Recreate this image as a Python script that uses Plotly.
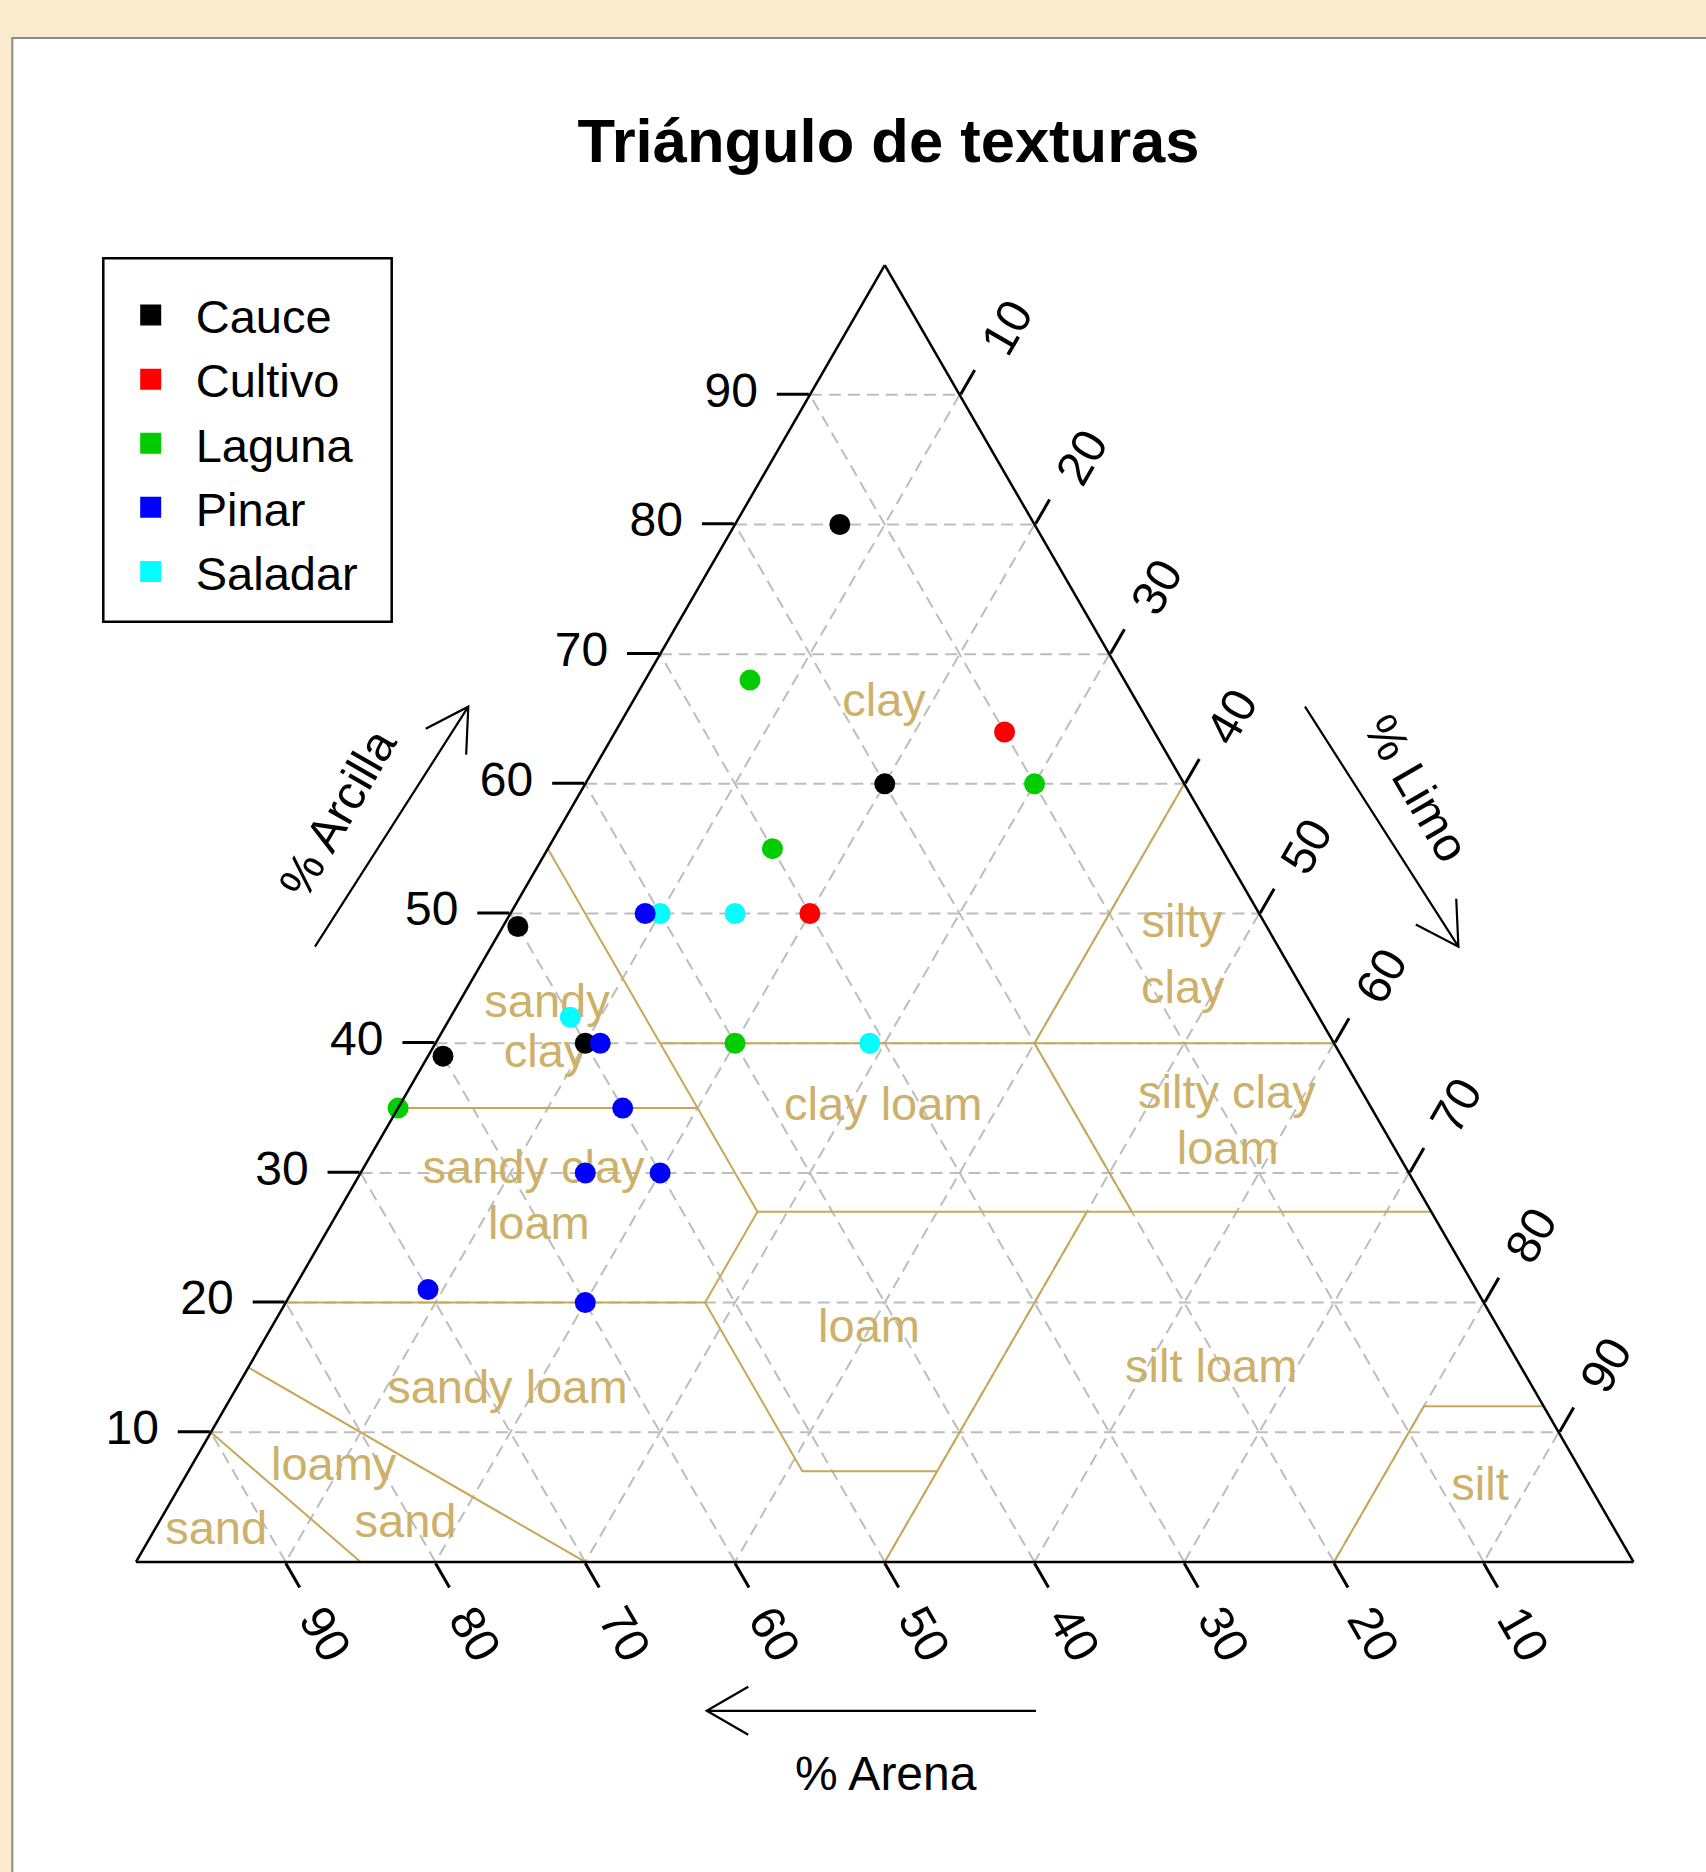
import math
import plotly.graph_objects as go

W, H = 1706, 1872

# ---------------- data ----------------
title_text = "Triángulo de texturas"

series_names = ["Cauce", "Cultivo", "Laguna", "Pinar", "Saladar"]
series_colors = ["#000000", "#FF0000", "#00CD00", "#0000FF", "#00FFFF"]

cauce_clay = [80, 60, 49, 39, 40]
cauce_silt = [7, 20, 1, 1, 10]
cauce_sand = [13, 20, 50, 60, 50]

cultivo_clay = [64, 50]
cultivo_silt = [26, 20]
cultivo_sand = [10, 30]

laguna_clay = [68, 60, 55, 40, 35]
laguna_silt = [7, 30, 15, 20, 0]
laguna_sand = [25, 10, 30, 40, 65]

pinar_clay = [50, 40, 35, 30, 30, 21, 20]
pinar_silt = [9, 11, 15, 15, 20, 9, 20]
pinar_sand = [41, 49, 50, 55, 50, 70, 60]

saladar_clay = [50, 50, 42, 40]
saladar_silt = [10, 15, 8, 29]
saladar_sand = [40, 35, 50, 31]

tick_values = [10, 20, 30, 40, 50, 60, 70, 80, 90]
tick_labels = ["10", "20", "30", "40", "50", "60", "70", "80", "90"]

# USDA texture class boundaries (None separates segments)
boundary_clay = [10, 0, None, 15, 0, None, 20, 20, None, 20, 7, 7, 0, None,
                 7, 27, None, 27, 27, None, 20, 27, None, 27, 55, None,
                 35, 35, None, 40, 40, None, 40, 60, None, 40, 27, None, 0, 12, 12]
boundary_silt = [0, 15, None, 0, 30, None, 0, 28, None, 28, 41, 50, 50, None,
                 50, 50, None, 28, 73, None, 28, 28, None, 28, 0, None,
                 0, 20, None, 15, 60, None, 40, 40, None, 40, 53, None, 80, 80, 88]
boundary_sand = [90, 85, None, 85, 70, None, 80, 52, None, 52, 52, 43, 50, None,
                 43, 23, None, 45, 0, None, 52, 45, None, 45, 45, None,
                 65, 45, None, 45, 0, None, 20, 0, None, 20, 20, None, 20, 8, 0]

class_labels = ["clay", "silty", "clay", "sandy", "clay", "clay loam", "silty clay", "loam",
                "sandy clay", "loam", "loam", "silt loam", "sandy loam", "loamy", "sand",
                "sand", "silt"]
class_clay = [66.1, 49.1, 44.0, 42.9, 39.1, 35.0, 35.9, 31.6, 30.1, 25.8, 17.9, 14.8, 13.2, 7.2, 2.8, 2.3, 5.7]
class_silt = [16.9, 45.3, 47.9, 6.0, 7.8, 32.4, 54.9, 57.1, 11.5, 14.0, 40.0, 64.4, 18.2, 9.6, 16.6, 4.2, 86.9]
class_sand = [17.0, 5.6, 8.1, 51.1, 53.1, 32.6, 9.2, 11.3, 58.4, 60.2, 42.1, 20.8, 68.6, 83.2, 80.6, 93.5, 7.4]

# ---------------- styling helpers ----------------
FONT = "Liberation Sans"
TAN_LINE = "#C8A858"
TAN_TEXT = "#CDB06A"
NBSP = "\u00a0"


def px(x):
    return x / W


def py(y):
    return 1 - y / H


def arrow_path(x0, y0, x1, y1, hl=48, ang=30):
    dx, dy = x1 - x0, y1 - y0
    L = math.hypot(dx, dy)
    bx, by = -dx / L, -dy / L
    pts = []
    for s in (1, -1):
        a = math.radians(ang * s)
        rx = bx * math.cos(a) - by * math.sin(a)
        ry = bx * math.sin(a) + by * math.cos(a)
        pts.append((x1 + hl * rx, y1 + hl * ry))
    return (f"M{px(x0)},{py(y0)} L{px(x1)},{py(y1)} "
            f"M{px(pts[0][0])},{py(pts[0][1])} L{px(x1)},{py(y1)} L{px(pts[1][0])},{py(pts[1][1])}")


fig = go.Figure()

# texture class boundaries
fig.add_trace(go.Scatterternary(
    a=boundary_clay, b=boundary_sand, c=boundary_silt, mode="lines",
    line=dict(color=TAN_LINE, width=2), connectgaps=False,
    showlegend=False, hoverinfo="skip"))

# texture class names
fig.add_trace(go.Scatterternary(
    a=class_clay, b=class_sand, c=class_silt, mode="text", text=class_labels,
    textfont=dict(family=FONT, size=47, color=TAN_TEXT), textposition="middle center",
    cliponaxis=False, showlegend=False, hoverinfo="skip"))

# data points (drawing order)
series = {
    "Cauce": (cauce_clay, cauce_sand, cauce_silt),
    "Cultivo": (cultivo_clay, cultivo_sand, cultivo_silt),
    "Laguna": (laguna_clay, laguna_sand, laguna_silt),
    "Saladar": (saladar_clay, saladar_sand, saladar_silt),
    "Pinar": (pinar_clay, pinar_sand, pinar_silt),
}
color_of = dict(zip(series_names, series_colors))
for name, (cl, sa, si) in series.items():
    fig.add_trace(go.Scatterternary(
        a=cl, b=sa, c=si, mode="markers", name=name,
        marker=dict(symbol="circle", size=21, color=color_of[name]),
        cliponaxis=False, showlegend=False))

# legend entries (square symbols)
for name, col in zip(series_names, series_colors):
    fig.add_trace(go.Scatterternary(
        a=[None], b=[None], c=[None], mode="markers", name=name,
        marker=dict(symbol="square", size=16, color=col, line=dict(color=col, width=5)),
        showlegend=True, hoverinfo="skip"))

axis_common = dict(
    title=dict(text=""), min=0, tickmode="array", tickvals=tick_values,
    ticks="outside", tickwidth=2.5, tickcolor="black",
    showline=True, linecolor="black", linewidth=2.5,
    showgrid=True, gridcolor="#BDBDBD", gridwidth=1.5, griddash="12px,7px",
    tickfont=dict(family=FONT, size=48, color="black"), layer="above traces",
)

sand_ticktext = ['<span style="font-size:48px">' + NBSP + t + "</span>" for t in tick_labels]

fig.update_layout(
    width=W, height=H,
    margin=dict(l=0, r=0, t=0, b=0, autoexpand=False),
    paper_bgcolor="#FAEBCF",
    title=dict(text="<b>" + title_text + "</b>", x=888.5 / W, xanchor="center",
               y=1 - 140 / H, yanchor="middle",
               font=dict(family=FONT, size=61.5, color="black")),
    ternary=dict(
        sum=100,
        domain=dict(x=[0.07972, 0.9575], y=[0.162, 0.862]),
        bgcolor="rgba(0,0,0,0)",
        aaxis=dict(axis_common, ticklen=32, ticktext=[t + NBSP for t in tick_labels]),
        baxis=dict(axis_common, ticklen=28, tickangle=60, ticktext=sand_ticktext,
                   tickfont=dict(family=FONT, size=20, color="black")),
        caxis=dict(axis_common, ticklen=28, tickangle=-60, ticktext=[NBSP + t for t in tick_labels]),
    ),
    showlegend=True,
    legend=dict(x=105.7 / W, y=1 - 278 / H, xanchor="left", yanchor="top",
                bgcolor="rgba(0,0,0,0)", borderwidth=0, itemwidth=80,
                font=dict(family=FONT, size=47, color="black"), tracegroupgap=0),
    shapes=[
        dict(type="rect", xref="paper", yref="paper", x0=px(12.3), x1=1.02, y0=-0.02, y1=py(38),
             fillcolor="white", line=dict(color="#8A8A8A", width=2), layer="below"),
        dict(type="rect", xref="paper", yref="paper", x0=px(103.3), x1=px(391.7),
             y0=py(621.7), y1=py(258.3), fillcolor="rgba(0,0,0,0)",
             line=dict(color="black", width=2.5), layer="above"),
        dict(type="path", xref="paper", yref="paper", path=arrow_path(315, 946.7, 468.3, 706.7),
             line=dict(color="black", width=2.2)),
        dict(type="path", xref="paper", yref="paper", path=arrow_path(1305, 706.7, 1458.4, 946.7),
             line=dict(color="black", width=2.2)),
        dict(type="path", xref="paper", yref="paper", path=arrow_path(1036, 1710.8, 706.7, 1710.8),
             line=dict(color="black", width=2.2)),
    ],
    annotations=[
        dict(text="% Arcilla", xref="paper", yref="paper", x=px(337), y=py(813),
             xanchor="center", yanchor="middle",
             textangle=-60, showarrow=False, font=dict(family=FONT, size=48, color="black")),
        dict(text="% Limo", xref="paper", yref="paper", x=px(1417), y=py(788),
             xanchor="center", yanchor="middle",
             textangle=60, showarrow=False, font=dict(family=FONT, size=48, color="black")),
        dict(text="% Arena", xref="paper", yref="paper", x=px(886), y=py(1773),
             xanchor="center", yanchor="middle",
             showarrow=False, font=dict(family=FONT, size=48, color="black")),
    ],
)

fig.write_html("out.html", config={"displayModeBar": False},
               post_script="document.body.style.margin='0px';")
